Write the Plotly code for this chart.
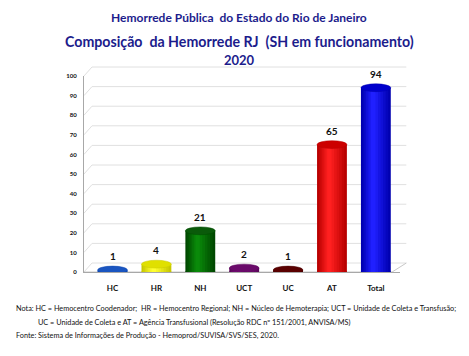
import plotly.graph_objects as go

categories = ["HC", "HR", "NH", "UCT", "UC", "AT", "Total"]
values = [1, 4, 21, 2, 1, 65, 94]
bright_colors = ["#2a7cf0", "#ffff30", "#0a8a0a", "#9a1a9a", "#8a0a0a", "#ff2020", "#2020ff"]
dark_colors = ["#0a45b0", "#c8c800", "#004800", "#5a065a", "#4a0000", "#b80000", "#0000b0"]
top_colors = ["#1a55c0", "#e0e000", "#0a5a0a", "#6a0a6a", "#5a0000", "#cc0000", "#0000cc"]
y_ticks = list(range(0, 101, 10))

title1 = "Hemorrede Pública  do Estado do Rio de Janeiro"
title2 = "Composição  da Hemorrede RJ  (SH em funcionamento)"
title3 = "2020"
note1 = "Nota: HC = Hemocentro Coodenador;  HR = Hemocentro Regional; NH = Núcleo de Hemoterapia; UCT = Unidade de Coleta e Transfusão;"
note2 = "UC = Unidade de Coleta e AT = Agência Transfusional (Resolução RDC nº 151/2001, ANVISA/MS)"
note3 = "Fonte: Sistema de Informações de Produção - Hemoprod/SUVISA/SVS/SES, 2020."

FONT = "Lato"
NAVY = "#1c1c8c"
bar_w = 0.68
ell = 2.0
OFF = 8  # page body margin
W, H = 469 - OFF, 356 - OFF
ML, MT = 84 - OFF, 76 - OFF
MR = W - (400 - OFF)
MB = H - (272 - OFF)
PW, PH = W - ML - MR, H - MT - MB
DX, DY = 8 / PW, 9 / PH  # 3D depth of the back wall, paper units


def blend(c1, c2, t):
    a = [int(c1[i:i + 2], 16) for i in (1, 3, 5)]
    b = [int(c2[i:i + 2], 16) for i in (1, 3, 5)]
    return "#%02x%02x%02x" % tuple(round(a[j] + (b[j] - a[j]) * t) for j in range(3))


xs = list(range(len(categories)))
fig = go.Figure()
n_layers = 7
for k in range(n_layers):
    t = k / (n_layers - 1)
    w = bar_w * (1 - 0.85 * t)
    shift = -0.06 * t
    fig.add_trace(go.Bar(
        x=xs, y=values,
        marker=dict(color=[blend(dark_colors[i], bright_colors[i], t) for i in xs], line=dict(width=0)),
        width=w, offset=-w / 2 + shift,
        showlegend=False, hoverinfo="skip",
    ))

shapes = []
# 3D back-wall gridlines
for tk in y_ticks:
    yp = tk / 100
    shapes.append(dict(type="path", xref="paper", yref="paper",
                       path="M 0 %f L %f %f L %f %f" % (yp, DX, yp + DY, 1 + 0.02, yp + DY),
                       line=dict(color="#e0e0e0", width=1), layer="below"))
for i, v in enumerate(values):
    shapes.append(dict(type="circle", xref="x", yref="y",
                       x0=i - bar_w / 2, x1=i + bar_w / 2, y0=-ell, y1=ell,
                       fillcolor=dark_colors[i], line=dict(width=0), layer="below"))
    shapes.append(dict(type="circle", xref="x", yref="y",
                       x0=i - bar_w / 2, x1=i + bar_w / 2, y0=v - ell, y1=v + ell,
                       fillcolor=top_colors[i], line=dict(width=0.5, color=dark_colors[i]), layer="above"))

# floor front edge and right side
shapes.append(dict(type="path", xref="paper", yref="paper",
                   path="M 0 0 L 0.975 0 L %f %f" % (1.02, DY),
                   line=dict(color="#c8c8c8", width=1), layer="below"))

annotations = []
for i, v in enumerate(values):
    annotations.append(dict(x=i, y=v, xref="x", yref="y", text="<b>%d</b>" % v,
                            showarrow=False, yshift=14, yanchor="middle",
                            font=dict(family=FONT, size=10, color="#111111")))


def px_ann(text, xpx, ypx, size, color, xanchor):
    return dict(text=text, xref="paper", yref="paper",
                x=(xpx - OFF - ML) / PW, y=(H - MB - (ypx - OFF)) / PH,
                xanchor=xanchor, yanchor="middle", showarrow=False,
                font=dict(family=FONT, size=size, color=color))


annotations += [
    px_ann("<b>%s</b>" % title1, 239, 17, 12, NAVY, "center"),
    px_ann("<b>%s</b>" % title2, 239, 42, 14.2, NAVY, "center"),
    px_ann("<b>%s</b>" % title3, 239, 60, 13, NAVY, "center"),
    px_ann(note1, 14, 308, 7.3, "#111111", "left"),
    px_ann(note2, 36, 322, 7.3, "#111111", "left"),
    px_ann(note3, 14, 335, 7.3, "#111111", "left"),
]

fig.update_layout(
    width=W, height=H,
    margin=dict(l=ML, r=MR, t=MT, b=MB, autoexpand=False),
    paper_bgcolor="white", plot_bgcolor="rgba(0,0,0,0)",
    font=dict(family=FONT, color="#111111"),
    barmode="overlay",
    shapes=shapes,
    annotations=annotations,
    xaxis=dict(tickmode="array", tickvals=xs,
               ticktext=["<b>%s</b>" % c for c in categories],
               range=[-0.65, len(categories) - 0.45],
               tickfont=dict(family=FONT, size=8, color="#111111"),
               ticklabelstandoff=8,
               showline=True, linecolor="#a8a8a8", ticks="", showgrid=False,
               zeroline=False),
    yaxis=dict(range=[0, 100], tickvals=y_ticks,
               ticktext=["<b>%d</b>" % t for t in y_ticks],
               tickfont=dict(family=FONT, size=6, color="#111111"),
               ticklabelstandoff=5,
               showgrid=False,
               showline=True, linecolor="#a8a8a8", zeroline=False, ticks=""),
)

fig.write_html("out.html")
